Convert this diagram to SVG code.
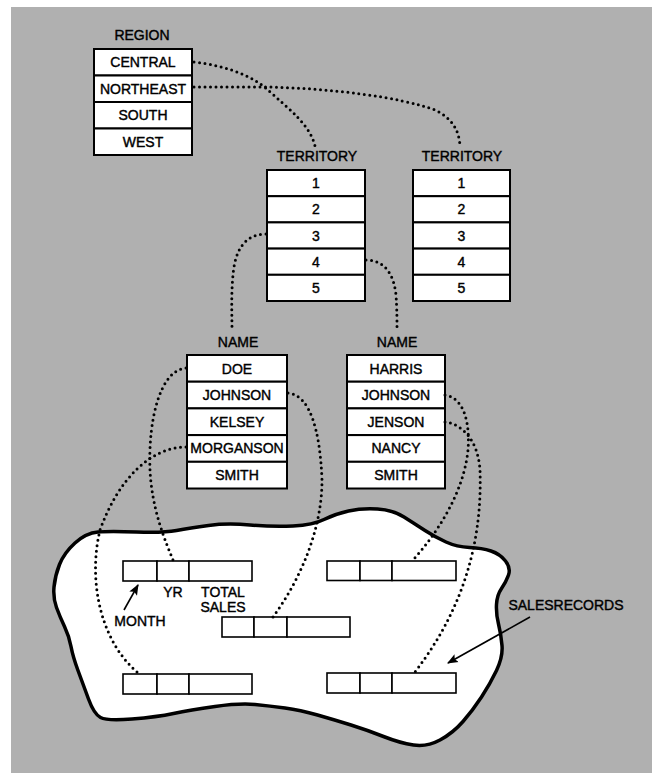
<svg xmlns="http://www.w3.org/2000/svg" width="652" height="773" viewBox="0 0 652 773">
<defs>
<marker id="arr" viewBox="0 0 10 10" refX="9" refY="5" markerWidth="11" markerHeight="11" markerUnits="userSpaceOnUse" orient="auto">
<path d="M0,1 L10,5 L0,9 L2,5 Z" fill="#000"/>
</marker>
</defs>
<style>
text{font-family:"Liberation Sans",Arial,sans-serif;font-size:14px;fill:#000;stroke:#000;stroke-width:0.4;text-anchor:middle}
.cell{fill:#fff;stroke:#000;stroke-width:2}
.rec{fill:#fff;stroke:#000;stroke-width:1.6}
.dot{fill:none;stroke:#000;stroke-width:3;stroke-linecap:round;stroke-dasharray:0 5.5}
.arrow{fill:none;stroke:#000;stroke-width:1.6}
</style>
<rect x="11" y="7" width="641" height="766" fill="#b0b0b0"/>

<g id="cloud">
<path d="M75,543 Q86,533 98,532 Q110,531 136.5,532 Q163,533 176.5,530.5 Q190,528 208.5,525.5 Q227,523 250,525 Q273,527 293,526 Q313,525 324,519.5 Q335,514 348.5,511 Q362,508 377.5,509 Q393,510 404,517 Q415,524 425,530.5 Q435,537 446,542 Q457,547 469.5,547.5 Q482,548 491,551 Q500,554 505.5,561 Q511,568 508.5,575 Q506,582 501.5,588.5 Q497,595 496.5,604.5 Q496,614 498.5,624 Q501,634 502,645.5 Q503,657 496.5,670.5 Q490,684 481.5,697 Q473,710 463,721.5 Q453,733 440,740 Q427,747 413.5,745 Q400,743 383.5,736.5 Q367,730 351,725 Q335,720 317.5,715 Q300,710 285,708 Q270,706 255,704.5 Q240,703 215,706.5 Q190,710 173.5,713.5 Q157,717 132,719 Q107,721 100.5,717.5 Q94,714 88.5,699 Q83,684 78,670.5 Q73,657 71,646.5 Q69,636 64.5,626.5 Q60,617 56.5,607.5 Q53,598 54,587 Q55,576 59.5,564.5 Q64,553 75,543 Z" fill="#fff" stroke="#000" stroke-width="3.5" stroke-linejoin="round"/>
</g>

<g id="region">
<text x="142" y="40">REGION</text>
<rect class="cell" x="94" y="49" width="98" height="26.5"/>
<rect class="cell" x="94" y="75.5" width="98" height="26.5"/>
<rect class="cell" x="94" y="102" width="98" height="26.5"/>
<rect class="cell" x="94" y="128.5" width="98" height="26.5"/>
<text x="143" y="67">CENTRAL</text>
<text x="143" y="93.5">NORTHEAST</text>
<text x="143" y="120">SOUTH</text>
<text x="143" y="146.5">WEST</text>
</g>

<g id="territory1">
<text x="317" y="161">TERRITORY</text>
<rect class="cell" x="267" y="170" width="98" height="26.2"/>
<rect class="cell" x="267" y="196.2" width="98" height="26.2"/>
<rect class="cell" x="267" y="222.4" width="98" height="26.2"/>
<rect class="cell" x="267" y="248.6" width="98" height="26.2"/>
<rect class="cell" x="267" y="274.8" width="98" height="26.2"/>
<text x="316" y="188">1</text>
<text x="316" y="214">2</text>
<text x="316" y="240.5">3</text>
<text x="316" y="266.5">4</text>
<text x="316" y="293">5</text>
</g>

<g id="territory2">
<text x="462" y="161">TERRITORY</text>
<rect class="cell" x="413" y="170" width="97" height="26.2"/>
<rect class="cell" x="413" y="196.2" width="97" height="26.2"/>
<rect class="cell" x="413" y="222.4" width="97" height="26.2"/>
<rect class="cell" x="413" y="248.6" width="97" height="26.2"/>
<rect class="cell" x="413" y="274.8" width="97" height="26.2"/>
<text x="461.5" y="188">1</text>
<text x="461.5" y="214">2</text>
<text x="461.5" y="240.5">3</text>
<text x="461.5" y="266.5">4</text>
<text x="461.5" y="293">5</text>
</g>

<g id="name1">
<text x="238" y="346.5">NAME</text>
<rect class="cell" x="187" y="355" width="100" height="26.7"/>
<rect class="cell" x="187" y="381.7" width="100" height="26.7"/>
<rect class="cell" x="187" y="408.4" width="100" height="26.7"/>
<rect class="cell" x="187" y="435.1" width="100" height="26.7"/>
<rect class="cell" x="187" y="461.8" width="100" height="26.7"/>
<text x="237" y="373.5">DOE</text>
<text x="237" y="400">JOHNSON</text>
<text x="237" y="426.5">KELSEY</text>
<text x="237" y="453">MORGANSON</text>
<text x="237" y="480">SMITH</text>
</g>

<g id="name2">
<text x="397" y="346.5">NAME</text>
<rect class="cell" x="347" y="355" width="98" height="26.7"/>
<rect class="cell" x="347" y="381.7" width="98" height="26.7"/>
<rect class="cell" x="347" y="408.4" width="98" height="26.7"/>
<rect class="cell" x="347" y="435.1" width="98" height="26.7"/>
<rect class="cell" x="347" y="461.8" width="98" height="26.7"/>
<text x="396" y="373.5">HARRIS</text>
<text x="396" y="400">JOHNSON</text>
<text x="396" y="426.5">JENSON</text>
<text x="396" y="453">NANCY</text>
<text x="396" y="480">SMITH</text>
</g>

<g id="record1">
<rect class="rec" x="123" y="561" width="34" height="20"/>
<rect class="rec" x="157" y="561" width="32" height="20"/>
<rect class="rec" x="189" y="561" width="63" height="20"/>
<text x="173" y="597">YR</text>
<text x="223" y="597">TOTAL</text>
<text x="223" y="612">SALES</text>
<text x="140" y="626">MONTH</text>
</g>
<g id="record2">
<rect class="rec" x="222" y="617" width="32" height="20"/>
<rect class="rec" x="254" y="617" width="33" height="20"/>
<rect class="rec" x="287" y="617" width="63" height="20"/>
</g>
<g id="record3">
<rect class="rec" x="123" y="674" width="34" height="20"/>
<rect class="rec" x="157" y="674" width="32" height="20"/>
<rect class="rec" x="189" y="674" width="63" height="20"/>
</g>
<g id="record4">
<rect class="rec" x="327" y="561" width="33" height="19.5"/>
<rect class="rec" x="360" y="561" width="32" height="19.5"/>
<rect class="rec" x="392" y="561" width="64" height="19.5"/>
</g>
<g id="record5">
<rect class="rec" x="327" y="673" width="33" height="20"/>
<rect class="rec" x="360" y="673" width="32" height="20"/>
<rect class="rec" x="392" y="673" width="64" height="20"/>
</g>
<g id="salesrecords-label">
<text x="566" y="610">SALESRECORDS</text>
</g>

<g id="connectors">
<path class="dot" d="M194,62 C230,66 255,78 268,90 C290,110 310,125 315,146"/>
<path class="dot" d="M194,87 L265,87 C330,88 400,97 435,110 C452,118 459,130 460,146"/>
<path class="dot" d="M266,234 C245,234 235,250 233,275 C231,295 232,315 232,330"/>
<path class="dot" d="M366,260 C385,260 394,275 396,295 C397,310 397,320 397,330"/>
<path class="dot" d="M186,368 C160,370 148,420 150,470 C152,510 165,540 173,560"/>
<path class="dot" d="M186,447 C150,447 118,480 100,530 C88,580 100,640 137,672"/>
<path class="dot" d="M288,393 C310,395 320,430 322,480 C322,530 300,580 273,617"/>
<path class="dot" d="M445,395 C465,398 470,425 468,450 C464,490 440,530 413,560"/>
<path class="dot" d="M445,422 C462,424 478,440 480,470 C482,530 470,600 415,672"/>
<line class="arrow" x1="124" y1="610" x2="138" y2="585" marker-end="url(#arr)"/>
<line class="arrow" x1="530" y1="617" x2="448" y2="663" marker-end="url(#arr)"/>
</g>
</svg>
